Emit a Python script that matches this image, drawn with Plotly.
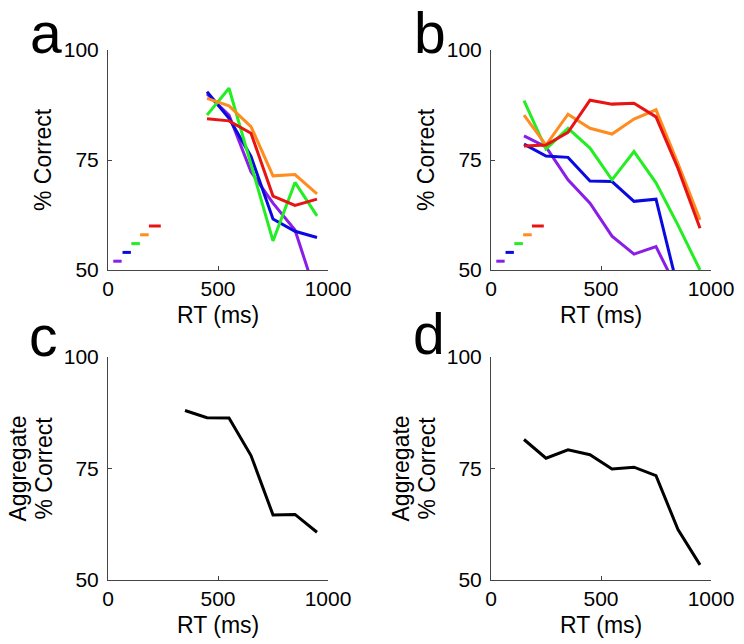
import plotly.graph_objects as go

# ---------------- data ----------------
rt_a = [450, 550, 650, 750, 850, 950]
a_purple = [90.0, 85.2, 72.3, 65.2, 59.1, 43.7]
a_blue = [90.5, 84.5, 75.8, 61.6, 58.8, 57.4]
a_green = [85.2, 91.3, 74.0, 56.6, 69.9, 62.3]
a_orange = [89.0, 87.3, 82.6, 71.4, 71.7, 67.3]
a_red = [84.4, 83.9, 81.1, 66.8, 64.7, 66.1]

rt_b = [150, 250, 350, 450, 550, 650, 750, 850, 950]
b_purple = [80.5, 78.0, 70.5, 65.2, 57.7, 53.6, 55.3, 45.3, 40.0]
b_blue = [78.6, 75.9, 75.6, 70.2, 70.1, 65.6, 66.1, 45.7, 35.0]
b_green = [88.5, 77.5, 82.2, 77.7, 70.5, 76.9, 69.8, 60.2, 50.0]
b_orange = [85.2, 78.4, 85.4, 82.2, 80.9, 84.3, 86.4, 74.2, 61.4]
b_red = [78.2, 78.4, 81.3, 88.6, 87.7, 87.9, 84.8, 73.1, 59.5]

rt_c = [350, 450, 550, 650, 750, 850, 950]
c_agg = [88.0, 86.4, 86.3, 77.9, 64.6, 64.7, 60.7]

rt_d = [150, 250, 350, 450, 550, 650, 750, 850, 950]
d_agg = [81.5, 77.3, 79.2, 78.1, 74.9, 75.3, 73.4, 61.3, 53.4]

# key dashes (x start, x end, y) per colour
key_x0 = [24, 66, 106, 146, 186]
key_x1 = [62, 104, 145, 185, 240]
key_y = [52, 54, 56, 58, 60]

series_names = ["purple", "blue", "green", "orange", "red"]
colors = ["#8a1ee8", "#0a0ae0", "#22ee22", "#ff8c1e", "#e81414"]

x_ticks = [0, 500, 1000]
y_ticks = [50, 75, 100]

W, H = 744, 644
# panel pixel boxes (left, right, top, bottom)
boxes = {
    "a": (108, 328, 50, 270),
    "b": (491, 711, 50, 270),
    "c": (108, 328, 357, 580),
    "d": (491, 711, 357, 580),
}

fig = go.Figure()

axis_ids = {"a": ("x", "y"), "b": ("x2", "y2"), "c": ("x3", "y3"), "d": ("x4", "y4")}

a_series = [a_purple, a_blue, a_green, a_orange, a_red]
b_series = [b_purple, b_blue, b_green, b_orange, b_red]

for panel, rt, data in (("a", rt_a, a_series), ("b", rt_b, b_series)):
    xa, ya = axis_ids[panel]
    for name, col, vals in zip(series_names, colors, data):
        fig.add_trace(go.Scatter(x=rt, y=vals, mode="lines", name=name,
                                 line=dict(color=col, width=3),
                                 xaxis=xa, yaxis=ya, showlegend=False))
    for col, x0, x1, yy in zip(colors, key_x0, key_x1, key_y):
        fig.add_trace(go.Scatter(x=[x0, x1], y=[yy, yy], mode="lines",
                                 line=dict(color=col, width=3),
                                 xaxis=xa, yaxis=ya, showlegend=False))

for panel, rt, vals in (("c", rt_c, c_agg), ("d", rt_d, d_agg)):
    xa, ya = axis_ids[panel]
    fig.add_trace(go.Scatter(x=rt, y=vals, mode="lines",
                             line=dict(color="black", width=3),
                             xaxis=xa, yaxis=ya, showlegend=False))

tick_font = dict(family="Liberation Sans, Arial, sans-serif", size=21, color="black")
title_font = dict(family="Liberation Sans, Arial, sans-serif", size=23, color="black")
letter_font = dict(family="Liberation Sans, Arial, sans-serif", size=57, color="black")

layout = dict(width=W, height=H,
              margin=dict(l=0, r=0, t=0, b=0, pad=0, autoexpand=False),
              paper_bgcolor="white", plot_bgcolor="white")

for i, panel in enumerate(["a", "b", "c", "d"]):
    l, r, t, b = boxes[panel]
    suffix = "" if i == 0 else str(i + 1)
    common = dict(showgrid=False, zeroline=False, showline=True, linecolor="#444444",
                  linewidth=1, ticks="inside", ticklen=4, tickcolor="#444444",
                  tickfont=tick_font, mirror=False, automargin=False)
    layout["xaxis" + suffix] = dict(domain=[l / W, r / W], range=[0, 1000],
                                    tickvals=x_ticks, ticktext=[str(v) for v in x_ticks],
                                    anchor="y" + suffix, **common)
    layout["yaxis" + suffix] = dict(domain=[1 - b / H, 1 - t / H], range=[50, 100],
                                    tickvals=y_ticks, ticktext=[str(v) for v in y_ticks],
                                    anchor="x" + suffix, ticklabelstandoff=4, **common)

fig.update_layout(**layout)

ann = []
# letter x centre, top of text box (px)
letters = {"a": (46, 0), "b": (430, 0), "c": (43, 303), "d": (429, 301)}
for k, (x, y) in letters.items():
    ann.append(dict(text=k, x=x / W, y=1 - y / H, xref="paper", yref="paper",
                    xanchor="center", yanchor="top", showarrow=False, font=letter_font,
                    borderpad=0))

for panel in ["a", "b", "c", "d"]:
    l, r, t, b = boxes[panel]
    cx = (l + r) / 2
    cy = (t + b) / 2
    ann.append(dict(text="RT (ms)", x=cx / W, y=1 - (b + 45) / H, xref="paper", yref="paper",
                    xanchor="center", yanchor="middle", showarrow=False, font=title_font))
    if panel in ("a", "b"):
        ann.append(dict(text="% Correct", x=(l - 65) / W, y=1 - cy / H, xref="paper",
                        yref="paper", xanchor="center", yanchor="middle", textangle=-90,
                        showarrow=False, font=title_font))
    else:
        ann.append(dict(text="Aggregate", x=(l - 91) / W, y=1 - cy / H, xref="paper",
                        yref="paper", xanchor="center", yanchor="middle", textangle=-90,
                        showarrow=False, font=title_font))
        ann.append(dict(text="% Correct", x=(l - 65) / W, y=1 - cy / H, xref="paper",
                        yref="paper", xanchor="center", yanchor="middle", textangle=-90,
                        showarrow=False, font=title_font))

fig.update_layout(annotations=ann)
fig.write_html("out.html", config={"displayModeBar": False},
               post_script="document.body.style.margin='0';document.body.style.padding='0';")
